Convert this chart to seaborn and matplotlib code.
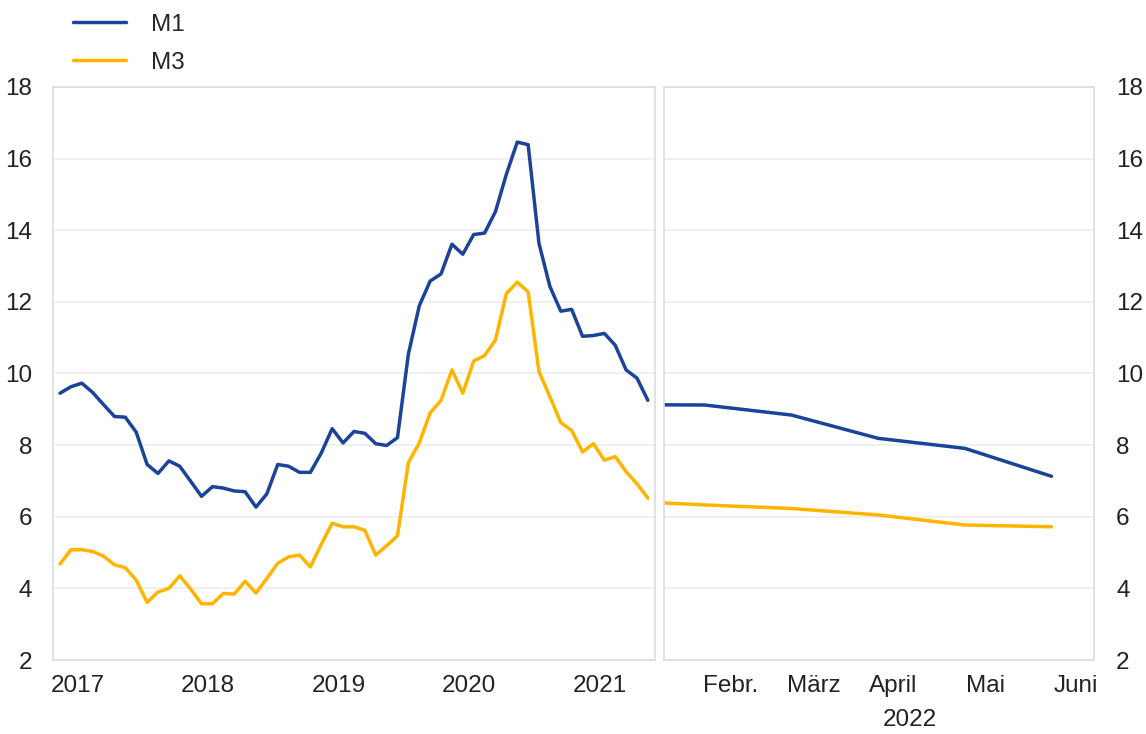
import numpy as np
import pandas as pd
import matplotlib
matplotlib.use('Agg')
import matplotlib.pyplot as plt
import seaborn as sns

# Monatswerte Juli 2017 - Januar 2022 (Jahreswachstumsraten in %)
months_left = pd.period_range('2017-07', '2022-01', freq='M').astype(str)
m1_left = [9.45, 9.63, 9.73, 9.47, 9.13, 8.80, 8.78, 8.36, 7.46, 7.21,
           7.56, 7.41, 6.99, 6.57, 6.84, 6.80, 6.72, 6.70, 6.27, 6.64,
           7.46, 7.41, 7.24, 7.24, 7.78, 8.46, 8.06, 8.38, 8.33, 8.04,
           7.99, 8.21, 10.54, 11.89, 12.58, 12.78, 13.61, 13.33, 13.88, 13.92,
           14.52, 15.56, 16.46, 16.39, 13.63, 12.43, 11.74, 11.79, 11.04, 11.06,
           11.12, 10.79, 10.10, 9.87, 9.25]
m3_left = [4.68, 5.08, 5.08, 5.03, 4.90, 4.66, 4.58, 4.23, 3.61, 3.90,
           4.00, 4.35, 3.98, 3.57, 3.57, 3.86, 3.84, 4.20, 3.87, 4.28,
           4.70, 4.88, 4.93, 4.60, 5.23, 5.82, 5.72, 5.72, 5.62, 4.93,
           5.19, 5.47, 7.51, 8.06, 8.90, 9.25, 10.10, 9.45, 10.35, 10.50,
           10.94, 12.23, 12.55, 12.28, 10.05, 9.35, 8.63, 8.41, 7.81, 8.04,
           7.58, 7.68, 7.26, 6.92, 6.52]
year_labels = ['2017', '2018', '2019', '2020', '2021']

# 2022
months_right = ['Jan.', 'Febr.', 'März', 'April', 'Mai', 'Juni']
m1_right = [9.13, 9.12, 8.84, 8.19, 7.91, 7.13]
m3_right = [6.45, 6.33, 6.23, 6.05, 5.77, 5.72]
year_right = '2022'

blue = '#1b4399'
yellow = '#ffb400'
pal = {'M1': blue, 'M3': yellow}

sns.set_style('white')
plt.rcParams['font.family'] = ['Liberation Sans', 'DejaVu Sans']

left = pd.DataFrame({'pos': np.arange(len(months_left)), 'M1': m1_left, 'M3': m3_left})
left = left.melt('pos', var_name='Reihe', value_name='Wert')
right = pd.DataFrame({'pos': np.arange(len(months_right)), 'M1': m1_right, 'M3': m3_right})
right = right.melt('pos', var_name='Reihe', value_name='Wert')

fig = plt.figure(figsize=(11.46, 7.34), dpi=100)
ax1 = fig.add_axes([0.0462, 0.1008, 0.5253, 0.7807])
ax2 = fig.add_axes([0.5794, 0.1008, 0.3752, 0.7807])

sns.lineplot(data=left, x='pos', y='Wert', hue='Reihe', palette=pal, lw=2.5, ax=ax1)
sns.lineplot(data=right, x='pos', y='Wert', hue='Reihe', palette=pal, lw=2.5, ax=ax2, legend=False)

fs = 17.5
txt = '#222222'
for ax in (ax1, ax2):
    ax.set_ylim(2, 18)
    ax.set_yticks(range(2, 19, 2))
    ax.set_xlabel('')
    ax.set_ylabel('')
    ax.grid(axis='y', color='#ededed', lw=1.2)
    ax.set_axisbelow(True)
    for s in ax.spines.values():
        s.set_color('#dcdcdc')
        s.set_linewidth(1.2)
    ax.tick_params(axis='y', length=0, labelsize=fs, labelcolor=txt)
    ax.tick_params(axis='x', which='major', length=0, labelsize=fs, labelcolor=txt, pad=11)
    ax.tick_params(axis='x', which='minor', length=5, color='#e3e3e3', width=1)

# linkes Panel
ax1.set_xlim(-0.65, 54.65)
ax1.set_xticks([1.6 + 12 * i for i in range(len(year_labels))])
ax1.set_xticklabels(year_labels)
ax1.set_xticks(np.arange(0, 55, 1), minor=True)
ax1.tick_params(axis='y', pad=15)

# rechtes Panel
ax2.set_xlim(0.53, 5.49)
ax2.set_xticks([1.3, 2.26, 3.17, 4.24, 5.28])
ax2.set_xticklabels(months_right[1:])
ax2.set_xticks([1, 2, 2.5, 3, 4, 5], minor=True)
ax2.yaxis.tick_right()
ax2.tick_params(axis='y', pad=16)
ax2.annotate(year_right, xy=(3.37, -0.105), xycoords=('data', 'axes fraction'),
             ha='center', va='center', fontsize=fs, color=txt)

handles, labels = ax1.get_legend_handles_labels()
ax1.legend_.remove()
fig.legend(handles, labels, loc='upper left', bbox_to_anchor=(0.0637, 0.981),
           frameon=False, fontsize=fs, borderpad=0, borderaxespad=0,
           handlelength=2.2, handletextpad=1.0, labelspacing=0.65)

fig.savefig('out.png', dpi=100)
